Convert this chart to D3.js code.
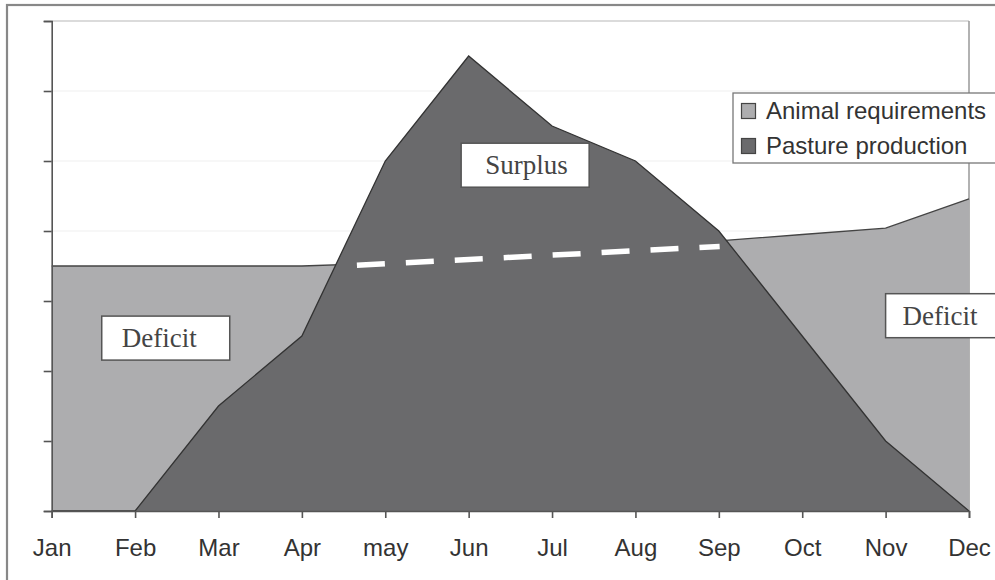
<!DOCTYPE html>
<html>
<head>
<meta charset="utf-8">
<script src="https://cdn.jsdelivr.net/npm/d3@7"></script>
<style>
  html, body { margin: 0; padding: 0; background: #fff; }
  svg { display: block; }
</style>
</head>
<body>
<svg id="chart" width="995" height="580"></svg>
<script>
// ---- data ----
const months = ["Jan", "Feb", "Mar", "Apr", "may", "Jun", "Jul", "Aug", "Sep", "Oct", "Nov", "Dec"];
const animalRequirements = [35, 35, 35, 35, 35.4, 35.9, 36.5, 37.1, 38.6, 39.5, 40.4, 44.6];
const pastureProduction = [0, 0, 15, 25, 50, 65, 55, 50, 40, 25, 10, 0];
const yTicks = [0, 10, 20, 30, 40, 50, 60, 70];
// dashed guide: [month position (index), value]
const dashedGuide = [[3.66, 35.1], [8.01, 37.8]];
const legendItems = ["Animal requirements", "Pasture production"];
// annotation boxes: left edge (month index) and vertical centre (value)
const labels = [
  { text: "Surplus", m: 4.91, v: 49.4, pad: 24 },
  { text: "Deficit", m: 0.60, v: 24.7, pad: 20 },
  { text: "Deficit", m: 10.0, v: 27.9, pad: 17 }
];

// ---- setup ----
const svg = d3.select("#chart");
const pLeft = 51.7, pRight = 969, pTop = 21, pBottom = 511;
const x = d3.scalePoint().domain(months).range([pLeft, pRight]);
const xi = d3.scaleLinear().domain([0, months.length - 1]).range([pLeft, pRight]);
const y = d3.scaleLinear().domain([0, 70]).range([pBottom, pTop]);

const lightFill = "#adadaf", darkFill = "#6a6a6c";

// gridlines
svg.append("g").selectAll("line").data(yTicks.filter(d => d > 0)).join("line")
  .attr("x1", pLeft).attr("x2", pRight)
  .attr("y1", d => y(d)).attr("y2", d => y(d))
  .attr("stroke", d => d === 70 ? "#b8b8b8" : "#f0f0f0").attr("stroke-width", 1.2);

// plot right border
svg.append("line").attr("x1", pRight).attr("x2", pRight).attr("y1", pTop).attr("y2", pBottom)
  .attr("stroke", "#999").attr("stroke-width", 1.5);

const animal = months.map((m, i) => ({ m, v: animalRequirements[i] }));
const pasture = months.map((m, i) => ({ m, v: pastureProduction[i] }));

const area = d3.area().x(d => x(d.m)).y0(y(0)).y1(d => y(d.v));
const line = d3.line().x(d => x(d.m)).y(d => y(d.v));

svg.append("path").datum(animal).attr("d", area).attr("fill", lightFill);
svg.append("path").datum(animal).attr("d", line).attr("fill", "none")
  .attr("stroke", "#444").attr("stroke-width", 1.3);

svg.append("path").datum(pasture).attr("d", area).attr("fill", darkFill);
svg.append("path").datum(pasture).attr("d", line).attr("fill", "none")
  .attr("stroke", "#333").attr("stroke-width", 1.3);

// dashed guide
svg.append("line")
  .attr("x1", xi(dashedGuide[0][0])).attr("y1", y(dashedGuide[0][1]))
  .attr("x2", xi(dashedGuide[1][0])).attr("y2", y(dashedGuide[1][1]))
  .attr("stroke", "#fff").attr("stroke-width", 5.5)
  .attr("stroke-dasharray", "28 21");

// axes
const yAxis = svg.append("g").attr("transform", `translate(${pLeft},0)`)
  .call(d3.axisLeft(y).tickValues(yTicks).tickSize(8).tickFormat(""));
const xAxis = svg.append("g").attr("transform", `translate(0,${pBottom})`)
  .call(d3.axisBottom(x).tickSize(7).tickPadding(21));
[yAxis, xAxis].forEach(g => {
  g.select(".domain").attr("stroke", "#555").attr("stroke-width", 1.6);
  g.selectAll(".tick line").attr("stroke", "#555").attr("stroke-width", 1.6);
});
xAxis.selectAll(".tick text")
  .attr("font-family", "Liberation Sans, Arial, sans-serif")
  .attr("font-size", 24).attr("fill", "#333");

// text boxes
const boxW = 128, boxH = 44;
labels.forEach(l => {
  const bx = xi(l.m), cy = y(l.v);
  const g = svg.append("g");
  g.append("rect").attr("x", bx).attr("y", cy - boxH / 2)
    .attr("width", boxW).attr("height", boxH)
    .attr("fill", "#fff").attr("stroke", "#555").attr("stroke-width", 1.5);
  g.append("text").attr("x", bx + l.pad).attr("y", cy + 9)
    .attr("font-family", "Liberation Serif, Times New Roman, serif")
    .attr("font-size", 27).attr("fill", "#444").text(l.text);
});

// legend
const lg = svg.append("g").attr("transform", "translate(733,93)");
lg.append("rect").attr("x", 0).attr("y", 0).attr("width", 300).attr("height", 70)
  .attr("fill", "#fff").attr("stroke", "#777").attr("stroke-width", 1.3);
legendItems.forEach((t, i) => {
  lg.append("rect").attr("x", 8.5).attr("y", 10.5 + i * 35).attr("width", 14).attr("height", 15)
    .attr("fill", i === 0 ? lightFill : darkFill).attr("stroke", "#444").attr("stroke-width", 1.2);
  lg.append("text").attr("x", 33).attr("y", 26 + i * 35)
    .attr("font-family", "Liberation Sans, Arial, sans-serif")
    .attr("font-size", 24).attr("fill", "#333").text(t);
});

// outer frame
svg.append("rect").attr("x", 7).attr("y", 5).attr("width", 1200).attr("height", 1200)
  .attr("fill", "none").attr("stroke", "#888").attr("stroke-width", 2.2);
</script>
</body>
</html>
